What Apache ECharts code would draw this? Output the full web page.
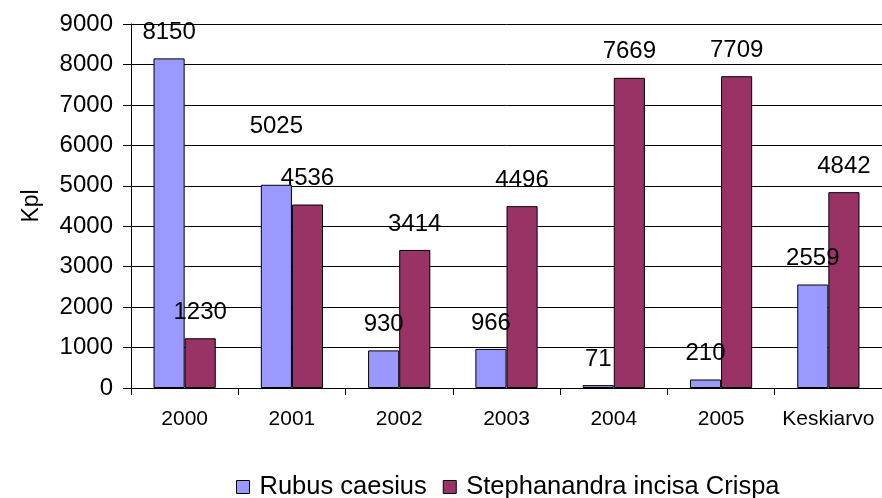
<!DOCTYPE html>
<html><head><meta charset="utf-8">
<script src="https://cdn.jsdelivr.net/npm/echarts@6/dist/echarts.min.js"></script>
<style>html,body{margin:0;padding:0;background:#fff}#c{width:882px;height:498px}</style>
</head><body><div id="c"></div>
<script>
const categories = ['2000','2001','2002','2003','2004','2005','Keskiarvo'];
const rubus = [8150, 5025, 930, 966, 71, 210, 2559];
const stephanandra = [1230, 4536, 3414, 4496, 7669, 7709, 4842];
const seriesNames = ['Rubus caesius', 'Stephanandra incisa Crispa'];
const yTicks = {min: 0, max: 9000, interval: 1000};

const font = 'Liberation Sans, Arial, sans-serif';
const chart = echarts.init(document.getElementById('c'));
const rubusData = rubus.map((v, i) => i === 1 ? {value: v, label: {offset: [0, -32]}} : v);
const lbl = {show: true, position: 'top', distance: 14, color: '#000', fontSize: 24, fontFamily: font};
chart.setOption({
  animation: false,
  grid: {left: 131, top: 24, width: 754, bottom: 110, containLabel: false},
  legend: {
    top: 474, left: 236, padding: 0, itemWidth: 13, itemHeight: 13, itemGap: 16,
    icon: 'rect',
    itemStyle: {borderColor: '#000', borderWidth: 1},
    textStyle: {fontSize: 25.5, fontFamily: font, color: '#000', padding: [0,0,0,5]},
    data: seriesNames
  },
  xAxis: {
    type: 'category', data: categories,
    axisLine: {lineStyle: {color: '#000'}},
    axisTick: {show: true, length: 7, interval: 0, lineStyle: {color: '#000'}},
    axisLabel: {color: '#000', fontSize: 21, fontFamily: font, margin: 21, interval: 0, hideOverlap: false}
  },
  yAxis: {
    type: 'value', min: yTicks.min, max: yTicks.max, interval: yTicks.interval,
    name: 'Kpl', nameLocation: 'middle', nameGap: 88, nameRotate: 90,
    nameTextStyle: {fontSize: 23, fontFamily: font, color: '#000'},
    axisLine: {show: true, lineStyle: {color: '#000'}},
    axisTick: {show: true, length: 8, lineStyle: {color: '#000'}},
    splitLine: {lineStyle: {color: '#000'}},
    axisLabel: {color: '#000', fontSize: 24, fontFamily: font, margin: 18, formatter: v => String(v)}
  },
  series: [
    {name: seriesNames[0], type: 'bar', data: rubusData, barGap: '0%', barCategoryGap: '42%',
     itemStyle: {color: '#9999FF', borderColor: '#000', borderWidth: 1}, label: lbl},
    {name: seriesNames[1], type: 'bar', data: stephanandra, barGap: '0%', barCategoryGap: '42%',
     itemStyle: {color: '#993366', borderColor: '#000', borderWidth: 1}, label: lbl}
  ]
});
</script></body></html>
